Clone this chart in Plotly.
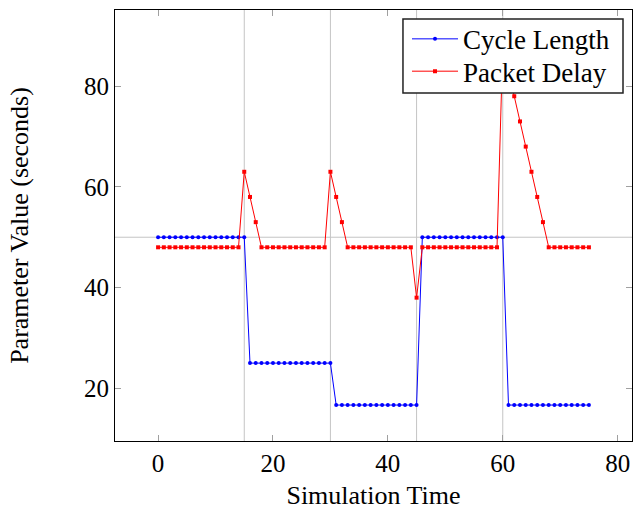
import plotly.graph_objects as go

time = list(range(0, 76))
cycle_length = ([50] * 16 + [25] * 15 + [16.67] * 15 + [50] * 15 + [16.67] * 15)
packet_delay = ([48] * 15 + [63, 58, 53] + [48] * 12 + [63, 58, 53] + [48] * 12 +
                [38] + [48] * 14 + [88, 83, 78, 73, 68, 63, 58, 53] + [48] * 8)

x_ticks = [0, 20, 40, 60, 80]
y_ticks = [20, 40, 60, 80]
grid_x = [15, 30, 45, 60]
grid_y = [50]

FONT = "Liberation Serif"

fig = go.Figure()
fig.add_trace(go.Scatter(x=time, y=cycle_length, name="Cycle Length",
                         mode="lines+markers", legend="legend",
                         line=dict(color="#0000ff", width=1),
                         marker=dict(symbol="circle", size=4, color="#0000ff")))
fig.add_trace(go.Scatter(x=time, y=packet_delay, name="Packet Delay",
                         mode="lines+markers", legend="legend2",
                         line=dict(color="#ff0000", width=1),
                         marker=dict(symbol="square", size=4, color="#ff0000")))

shapes = []
for v in grid_x:
    shapes.append(dict(type="line", xref="x", yref="paper", x0=v, x1=v, y0=0, y1=1,
                       line=dict(color="#c4c4c4", width=1), layer="below"))
for v in grid_y:
    shapes.append(dict(type="line", xref="paper", yref="y", x0=0, x1=1, y0=v, y1=v,
                       line=dict(color="#c4c4c4", width=1), layer="below"))
# legend frame
shapes.append(dict(type="rect", xref="paper", yref="paper", x0=0.557, x1=0.9826,
                   y0=0.8074, y1=0.979, fillcolor="white",
                   line=dict(color="#222222", width=1.5), layer="above"))

axis_common = dict(showgrid=False, zeroline=False, showline=True, linecolor="black",
                   linewidth=1, mirror="ticks", ticks="inside", ticklen=6,
                   tickcolor="#a0a0a0", tickwidth=1, automargin=False,
                   tickfont=dict(family=FONT, size=25, color="black"))

leg_common = dict(xanchor="left", yanchor="middle", bgcolor="rgba(0,0,0,0)",
                  borderwidth=0, itemwidth=46, font=dict(family=FONT, size=27))

fig.update_layout(
    width=633, height=510,
    margin=dict(l=115, r=1, t=10, b=69),
    paper_bgcolor="white", plot_bgcolor="white",
    shapes=shapes,
    font=dict(family=FONT, color="black"),
    xaxis=dict(range=[-7.5, 82.5], tickmode="array", tickvals=x_ticks,
               title=dict(text="Simulation Time", font=dict(family=FONT, size=26), standoff=19),
               **axis_common),
    yaxis=dict(range=[9.53, 95.13], tickmode="array", tickvals=y_ticks,
               title=dict(text="Parameter Value (seconds)", font=dict(family=FONT, size=26), standoff=47),
               **axis_common),
    legend=dict(x=0.5648, y=0.932, **leg_common),
    legend2=dict(x=0.5648, y=0.857, **leg_common),
    showlegend=True,
)

fig.write_html("out.html")
